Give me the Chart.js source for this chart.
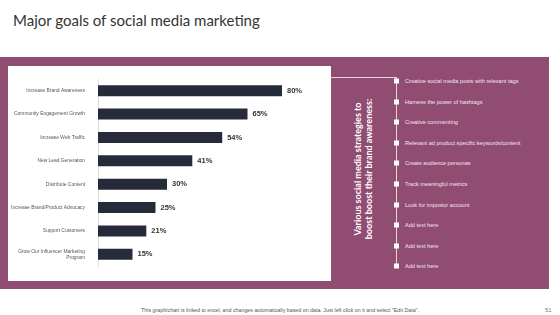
<!DOCTYPE html>
<html>
<head>
<meta charset="utf-8">
<script src="https://cdn.jsdelivr.net/npm/chart.js@4.4.1/dist/chart.umd.min.js"></script>
<style>
  html, body { margin: 0; padding: 0; }
  body { width: 560px; height: 315px; background: #fff; position: relative; overflow: hidden; font-family: "Liberation Sans", Arial, sans-serif; }
  #title { position: absolute; left: 13px; top: 11px; font-family: Lato, sans-serif; font-size: 15px; color: #333; }
  #panel { position: absolute; left: 0; top: 57px; width: 549px; height: 232px; background: #914c71; }
  #white { position: absolute; left: 8px; top: 66px; width: 323px; height: 215px; background: #fff; }
  #chartBox { position: absolute; left: 8px; top: 66px; width: 323px; height: 215px; }
  #hline { position: absolute; left: 331px; top: 77px; width: 65px; height: 1px; background: #e9d3df; }
  #vline { position: absolute; left: 396px; top: 77px; width: 1px; height: 190px; background: #e9d3df; }
  #side { position: absolute; left: 363px; top: 169px; width: 0; height: 0; }
  #side div { position: absolute; left: 0; top: 0; transform: translate(-50%, -50%) rotate(-90deg); white-space: nowrap; color: #fff; font-family: Lato, sans-serif; font-weight: bold; font-size: 9px; line-height: 10.5px; text-align: center; }
  .item { position: absolute; left: 405px; font-size: 5.6px; color: #f3e6ee; white-space: nowrap; transform: translateY(-50%); }
  .dot { position: absolute; left: 394px; width: 5px; height: 5px; background: #fff; transform: translateY(-50%); }
  #footer { position: absolute; left: 0; width: 560px; top: 307px; text-align: center; font-size: 5.3px; color: #555; }
  #page { position: absolute; left: 545px; top: 307px; font-size: 6px; color: #777; }
</style>
</head>
<body>
<div id="title">Major goals of social media marketing</div>
<div id="panel"></div>
<div id="white"></div>
<div id="chartBox"><canvas id="chart"></canvas></div>
<div id="hline"></div>
<div id="vline"></div>
<div id="side"><div>Various social media strategies to<br>boost boost their brand awareness:</div></div>
<div id="list"></div>
<div id="footer">This graph/chart is linked to excel, and changes automatically based on data. Just left click on it and select "Edit Data".</div>
<div id="page">51</div>
<script>
const categories = [
  'Increase Brand Awareness',
  'Community Engagement Growth',
  'Increase Web Traffic',
  'New Lead Generation',
  'Distribute Content',
  'Increase Brand/Product Advocacy',
  'Support Customers',
  ['Grow Our Influencer Marketing', 'Program']
];
const values = [80, 65, 54, 41, 30, 25, 21, 15];
const strategies = [
  'Creative  social media posts with relevant  tags',
  'Harness the power of hashtags',
  'Creative  commenting',
  'Relevant  ad product  specific keywords/content',
  'Create audience  personas',
  'Track meaningful  metrics',
  'Look for impostor account',
  'Add text here',
  'Add text here',
  'Add text here'
];

// right-hand list
const list = document.getElementById('list');
strategies.forEach((s, i) => {
  const y = 81 + i * 20.6;
  const dot = document.createElement('div');
  dot.className = 'dot';
  dot.style.top = y + 'px';
  list.appendChild(dot);
  const t = document.createElement('div');
  t.className = 'item';
  t.style.top = y + 'px';
  t.textContent = s;
  list.appendChild(t);
});

// value labels after each bar
const barLabels = {
  id: 'barLabels',
  afterDatasetsDraw(chart) {
    const ctx = chart.ctx;
    ctx.save();
    ctx.font = 'bold 7.5px "Liberation Sans", Arial, sans-serif';
    ctx.fillStyle = '#333';
    ctx.textBaseline = 'middle';
    chart.getDatasetMeta(0).data.forEach((bar, i) => {
      ctx.fillText(values[i] + '%', bar.x + 5, bar.y);
    });
    ctx.restore();
  }
};

new Chart(document.getElementById('chart'), {
  type: 'bar',
  data: {
    labels: categories,
    datasets: [{
      data: values,
      backgroundColor: '#262b3a',
      barPercentage: 0.47,
      categoryPercentage: 1
    }]
  },
  options: {
    indexAxis: 'y',
    responsive: true,
    maintainAspectRatio: false,
    animation: false,
    layout: { padding: { left: 0, right: 3, top: 13, bottom: 15 } },
    plugins: { legend: { display: false }, tooltip: { enabled: false } },
    scales: {
      x: { display: false, min: 0, max: 100 },
      y: {
        grid: { display: false },
        border: { display: true, color: '#ddd' },
        ticks: {
          color: '#555',
          padding: 5,
          font: { size: 4.9, family: '"Liberation Sans", Arial, sans-serif' }
        },
        afterFit(scale) { scale.width = 90; }
      }
    }
  },
  plugins: [barLabels]
});
</script>
</body>
</html>
